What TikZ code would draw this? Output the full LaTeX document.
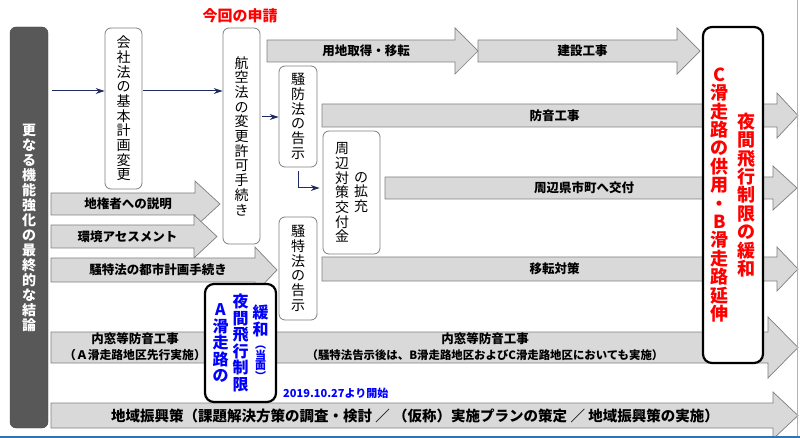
\documentclass[tikz,border=0pt]{standalone}
\usepackage{fontspec}
\setmainfont{Noto Sans CJK JP}
\usetikzlibrary{arrows.meta}

\definecolor{barfill}{HTML}{D9D9D9}
\definecolor{barline}{HTML}{7F7F7F}
\definecolor{navy}{HTML}{1F2A5E}
\definecolor{darkbox}{HTML}{585858}
\definecolor{frameblue}{HTML}{2E75B6}

\newcommand\setfs[2]{\fontsize{#1}{#2}\selectfont}
\newcommand\bararrow[8]{%
        \draw[barshape] (#2,#3) -- (#5,#3) -- (#5,#3-#7) -- (#6,{(#3+#4)/2}) -- (#5,#4+#7) -- (#5,#4) -- (#2,#4) -- cycle;
        \node[barlabel] (#1) at ({(#2+#5)/2+5},{(#3+#4)/2}) {#8};}

\tikzset{
        barshape/.style={draw=barline, fill=barfill, line width=0.7pt},
        barlabel/.style={inner sep=0pt, font=\setfs{12.5}{14}\bfseries},
        smalllabel/.style={inner sep=0pt, font=\setfs{11.4}{12}\bfseries},
        vbox/.style={draw=barline, fill=white, rounded corners=6pt, line width=0.8pt, inner sep=0pt, align=center, font=\setfs{14}{14.7}},
        bigbox/.style={draw=black, fill=white, rounded corners=9pt, line width=2.2pt, inner sep=0pt, align=center},
        flow/.style={draw=navy, line width=1pt, -{Stealth[length=9pt,width=6pt]}}
}

\begin{document}
\begin{tikzpicture}[x=1pt,y=-1pt]
        \useasboundingbox (0,0) rectangle (800,438);

        \bararrow{yochi}{267}{40}{62}{455}{478}{12}{用地取得・移転}
        \bararrow{kensetsu}{478}{40}{62}{677}{700}{12}{建設工事}
        \bararrow{boon}{322}{104}{127}{777}{798}{11}{防音工事}
        \bararrow{koufu}{385}{177}{199}{773}{797}{11}{周辺県市町へ交付}
        \bararrow{chiken}{51}{193}{215}{195}{220}{12}{地権者への説明}
        \bararrow{kankyo}{51}{225}{248}{194}{217}{10}{環境アセスメント}
        \bararrow{toshi}{51}{258}{282}{255}{277}{11}{騒特法の都市計画手続き}
        \bararrow{iten}{322}{257}{281}{777}{798}{10}{移転対策}
        \bararrow{uchimado}{51}{332}{363}{768}{798}{15}{}
        \bararrow{chiiki}{51}{403}{428}{773}{798}{11}{}

        \node[barlabel, font=\setfs{14.5}{16}\bfseries] (chiikiL) at (415,415.5) {地域振興策（課題解決方策の調査・検討 ／ （仮称）実施プランの策定 ／ 地域振興策の実施）};
        \node[barlabel] (uchiLa) at (135,339) {内窓等防音工事};
        \node[smalllabel, font=\setfs{11.8}{12}\bfseries] (uchiLb) at (135,355) {（Ａ滑走路地区先行実施）};
        \node[barlabel] (uchiRa) at (485,339) {内窓等防音工事};
        \node[smalllabel] (uchiRb) at (485,355) {（騒特法告示後は、B滑走路地区およびC滑走路地区においても実施）};

        \node[draw=darkbox!80!black, fill=darkbox, rounded corners=6pt, minimum width=38, minimum height=401, inner sep=0pt, text=white, align=center, font=\setfs{14}{15}\bfseries] (dark) at (29,227.5) {更\\な\\る\\機\\能\\強\\化\\の\\最\\終\\的\\な\\結\\論};

        \node[vbox, minimum width=37, minimum height=161] (kaisha) at (123.5,108.5) {会\\社\\法\\の\\基\\本\\計\\画\\変\\更};
        \node[vbox, minimum width=37, minimum height=216] (koku) at (241.5,136) {航\\空\\法\\の\\変\\更\\許\\可\\手\\続\\き};
        \node[vbox, minimum width=38, minimum height=101] (sobo) at (298,116.5) {騒\\防\\法\\の\\告\\示};
        \node[vbox, minimum width=57, minimum height=123] (shuhen) at (351.5,192.5) {\parbox[c]{15pt}{\centering 周\\辺\\対\\策\\交\\付\\金}\hspace{4pt}\parbox[c]{15pt}{\centering の\\拡\\充}};
        \node[vbox, minimum width=38, minimum height=103] (sotoku) at (298,268.5) {騒\\特\\法\\の\\告\\示};

        \draw[flow, shorten <=4pt] (dark.east |- 0,91) -- (kaisha.west |- 0,91);
        \draw[flow, shorten <=1pt] (kaisha.east |- 0,91) -- (koku.west |- 0,91);
        \draw[flow, shorten <=2pt] (koku.east |- 0,117) -- (sobo.west |- 0,117);
        \draw[flow, shorten <=4pt, shorten >=3pt] (sobo.south) |- (shuhen.west |- 0,188);

        \node[bigbox, minimum width=71, minimum height=118, text=blue, font=\setfs{16}{16.5}\bfseries] (abox) at (240.5,343) {\parbox[c]{16pt}{\centering A\\滑\\走\\路\\の}\hspace{4pt}\parbox[c]{16pt}{\centering 夜\\間\\飛\\行\\制\\限}\hspace{4pt}\parbox[c]{16pt}{\centering 緩\\和\par\vspace{3pt}\setfs{11}{10}︵\\当\\面\\︶}};
        \node[bigbox, minimum width=60, minimum height=336, text=red, font=\setfs{18}{18.4}\bfseries] (cbox) at (733,195) {\parbox[c]{19pt}{\centering C\\滑\\走\\路\\の\\供\\用\\・\\B\\滑\\走\\路\\延\\伸}\hspace{8pt}\parbox[c]{19pt}{\centering 夜\\間\\飛\\行\\制\\限\\の\\緩\\和}};

        \node[text=red, font=\setfs{15}{16}\bfseries] (shinsei) at (240,16) {今回の申請};
        \node[text=blue, anchor=west, inner sep=0pt, font=\setfs{11}{12}\bfseries] (kaishi) at (283,393) {2019.10.27より開始};

        \draw[barline!60, line width=0.8pt] (797.5,0) -- (797.5,436);
        \draw[frameblue, line width=2pt] (0,437) -- (800,437);
\end{tikzpicture}
\end{document}
